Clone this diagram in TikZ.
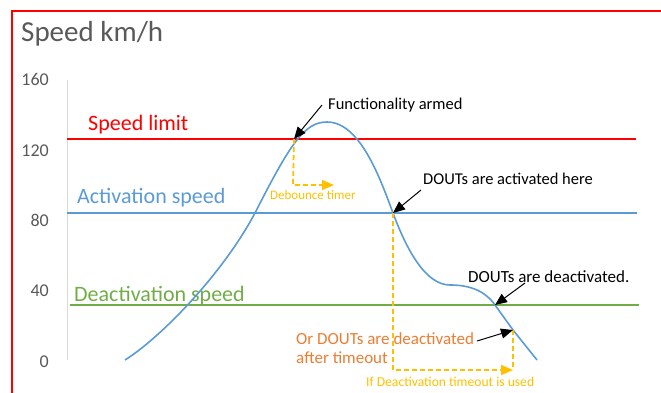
\documentclass[tikz,border=0pt]{standalone}
\usepackage{fontspec}
\setmainfont{Carlito}
\usetikzlibrary{arrows.meta}
\definecolor{frame}{HTML}{FF0000}
\definecolor{lim}{HTML}{FF0000}
\definecolor{act}{HTML}{5B9BD5}
\definecolor{deact}{HTML}{70AD47}
\definecolor{gold}{HTML}{FFC000}
\definecolor{orng}{HTML}{ED7D31}
\definecolor{txtgray}{HTML}{595959}
\definecolor{axisgray}{HTML}{D9D9D9}
\tikzset{
  lbl/.style={inner sep=0pt, anchor=base west},
  ticklbl/.style={inner sep=0pt, anchor=base east, text=txtgray, font=\fontsize{18}{20}\selectfont},
  callout/.style={lbl, text=black, font=\fontsize{16.5}{19}\selectfont},
  pointer/.style={draw=black, line width=1pt, -{Triangle[length=12pt,width=10pt]}},
  timer/.style={draw=gold, line width=1.8pt, dash pattern=on 5pt off 3pt},
  timerarrow/.style={timer, -{Triangle[length=12pt,width=10pt,fill=gold]}},
  level/.style={line width=1.5pt},
}
\begin{document}
\begin{tikzpicture}[x=1pt,y=-1pt]
\useasboundingbox (0,0) rectangle (661,392);
% frame
\draw[frame, line width=2pt] (12,393) -- (12,11) -- (662,11);
% title
\node[lbl, text=txtgray, font=\fontsize{29}{32}\selectfont] (title) at (21,41) {Speed km/h};
% axis
\draw[axisgray, line width=1pt] (67,80) -- (67,360);
\node[ticklbl] (t160) at (49,85) {160};
\node[ticklbl] (t120) at (49,156) {120};
\node[ticklbl] (t80) at (49,226) {80};
\node[ticklbl] (t40) at (49,296) {40};
\node[ticklbl] (t0) at (49,367) {0};
% level lines
\draw[level, lim] (67,139) -- (636,139);
\draw[level, act] (67,213) -- (637,213);
\draw[level, deact] (70,305) -- (639,305);
\node[lbl, text=lim, font=\fontsize{22}{24}\selectfont] (sl) at (88,130) {Speed limit};
\node[lbl, text=act, font=\fontsize{22}{24}\selectfont] (as) at (77,203) {Activation speed};
\node[lbl, text=deact, font=\fontsize{22}{24}\selectfont] (ds) at (74,301) {Deactivation speed};
% key points
\coordinate (start) at (125,360);
\coordinate (up) at (255,213);
\coordinate (armed) at (294,139);
\coordinate (peak) at (327,122);
\coordinate (actpt) at (393,213);
\coordinate (plat) at (450,285);
\coordinate (deactpt) at (495,305);
\coordinate (topt) at (513,330);
\coordinate (end) at (537,360);
% speed curve
\draw[act, line width=1.6pt]
  (start) .. controls (160,338) and (222,275) .. (up)
  .. controls (291,142) and (305,122) .. (peak)
  .. controls (360,122) and (380,178) .. (actpt)
  .. controls (406,248) and (425,285) .. (plat)
  .. controls (465,285) and (483,288) .. (deactpt)
  -- (topt) -- (end);
% debounce timer
\coordinate (db1) at (293,185);
\coordinate (db2) at (334,185);
\draw[timerarrow] (armed) -- (db1) -- (db2);
\node[lbl, text=gold, font=\fontsize{13}{15}\selectfont] (dbt) at (270,199) {Debounce timer};
% deactivation timeout
\coordinate (to1) at (393,370);
\coordinate (to2) at (513,370);
\draw[timerarrow] (actpt) -- (to1) -- (to2);
\draw[timer] (topt) -- (to2);
\node[lbl, text=gold, font=\fontsize{13.6}{15}\selectfont] (tot) at (366,386) {If Deactivation timeout is used};
% callouts
\node[callout] (fa) at (328,109) {Functionality armed};
\node[callout] (da) at (423,184) {DOUTs are activated here};
\node[callout, font=\fontsize{17}{19}\selectfont] (dd) at (468,282) {DOUTs are deactivated.};
\node[lbl, text=orng, font=\fontsize{17}{19}\selectfont, align=left] (od) at (296,363) {Or DOUTs are deactivated\\after timeout};
\coordinate (faA) at (322,105);
\coordinate (daA) at (421,190);
\coordinate (ddA) at (525,283);
\coordinate (odA) at (477,341);
\draw[pointer] (faA) -- (armed);
\draw[pointer] (daA) -- (actpt);
\draw[pointer] (ddA) -- (deactpt);
\draw[pointer] (odA) -- (topt);
\end{tikzpicture}
\end{document}
